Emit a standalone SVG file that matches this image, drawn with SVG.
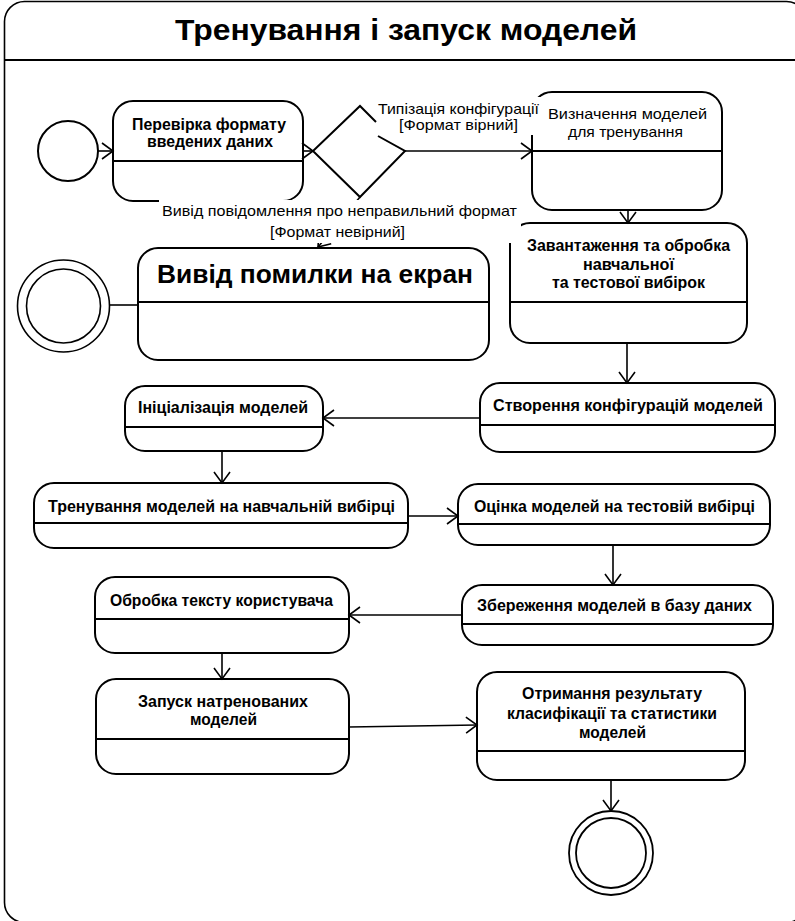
<svg xmlns="http://www.w3.org/2000/svg" width="795" height="921" viewBox="0 0 795 921">
<defs>
<marker id="arr" markerUnits="userSpaceOnUse" markerWidth="30" markerHeight="30" viewBox="-15 -15 30 30" refX="0" refY="0" orient="auto">
<path d="M-11,-8 L0,0 L-11,8" fill="none" stroke="#000" stroke-width="1.6"/>
</marker>
<style>
.node{fill:#fff;stroke:#000;stroke-width:2}
.div{stroke:#000;stroke-width:2}
.t{font-family:"Liberation Sans",Arial,sans-serif;font-size:16px;font-weight:bold;fill:#000;text-anchor:middle}
.r{font-family:"Liberation Sans",Arial,sans-serif;font-size:15px;fill:#000;text-anchor:middle}
.c{fill:none;stroke:#000;stroke-width:1.6}
.ca{fill:none;stroke:#000;stroke-width:1.6;marker-end:url(#arr)}
.lb{fill:#fff;stroke:none}
</style>
</defs>
<rect width="795" height="921" fill="#fff"/>
<g id="frame">
<rect x="4.5" y="1.5" width="802" height="921" rx="20" fill="none" stroke="#000" stroke-width="1.6"/>
<line x1="4.5" y1="60" x2="807" y2="60" stroke="#000" stroke-width="2.2"/>
<text x="406" y="40" font-family="'Liberation Sans',Arial,sans-serif" font-size="30" font-weight="bold" text-anchor="middle" textLength="462" lengthAdjust="spacingAndGlyphs">Тренування і запуск моделей</text>
</g>
<g id="start"><circle cx="68" cy="151" r="30" fill="#fff" stroke="#000" stroke-width="2"/></g>
<g id="check">
<rect class="node" x="113" y="101" width="190" height="100" rx="20"/>
<line class="div" x1="113" y1="161" x2="303" y2="161"/>
<text class="t" x="209" y="130" textLength="154" lengthAdjust="spacingAndGlyphs">Перевірка формату</text>
<text class="t" x="210" y="147" textLength="126" lengthAdjust="spacingAndGlyphs">введених даних</text>
</g>
<g id="decision">
<path d="M376,122 L360,106 L313,151 L360,197 L405,151 L378,136" fill="#fff" stroke="#000" stroke-width="2"/>
</g>
<g id="define">
<rect class="node" x="532" y="92" width="190" height="118" rx="20"/>
<line class="div" x1="532" y1="151" x2="722" y2="151"/>
<text class="r" x="627.5" y="119" textLength="159" lengthAdjust="spacingAndGlyphs">Визначення моделей</text>
<text class="r" x="625.5" y="137" textLength="115" lengthAdjust="spacingAndGlyphs">для тренування</text>
</g>
<g id="error">
<rect class="node" x="138" y="248" width="351" height="112" rx="20"/>
<line class="div" x1="138" y1="302" x2="489" y2="302"/>
<text x="315" y="283" font-family="'Liberation Sans',Arial,sans-serif" font-size="26" font-weight="bold" text-anchor="middle" textLength="316" lengthAdjust="spacingAndGlyphs">Вивід помилки на екран</text>
</g>
<g id="errorEnd">
<circle cx="63.5" cy="306" r="46" fill="#fff" stroke="#000" stroke-width="1.6"/>
<circle cx="63.5" cy="306" r="37" fill="none" stroke="#000" stroke-width="1.6"/>
</g>
<g id="load">
<rect class="node" x="510" y="223" width="237" height="120" rx="20"/>
<line class="div" x1="510" y1="302" x2="747" y2="302"/>
<text class="t" x="628.5" y="251" textLength="203" lengthAdjust="spacingAndGlyphs">Завантаження та обробка</text>
<text class="t" x="628.5" y="270" textLength="91" lengthAdjust="spacingAndGlyphs">навчальної</text>
<text class="t" x="628.5" y="288" textLength="153" lengthAdjust="spacingAndGlyphs">та тестової вибірок</text>
</g>
<g id="config">
<rect class="node" x="480" y="383" width="295" height="69" rx="20"/>
<line class="div" x1="480" y1="425" x2="775" y2="425"/>
<text class="t" x="628" y="411" textLength="270" lengthAdjust="spacingAndGlyphs">Створення конфігурацій моделей</text>
</g>
<g id="init">
<rect class="node" x="125" y="386" width="198" height="65" rx="20"/>
<line class="div" x1="125" y1="427" x2="323" y2="427"/>
<text class="t" x="223" y="413" textLength="170" lengthAdjust="spacingAndGlyphs">Ініціалізація моделей</text>
</g>
<g id="train">
<rect class="node" x="34" y="483" width="374" height="65" rx="20"/>
<line class="div" x1="34" y1="523" x2="408" y2="523"/>
<text class="t" x="221.5" y="512" textLength="347" lengthAdjust="spacingAndGlyphs">Тренування моделей на навчальній вибірці</text>
</g>
<g id="eval">
<rect class="node" x="458" y="484" width="312" height="61" rx="20"/>
<line class="div" x1="458" y1="524" x2="770" y2="524"/>
<text class="t" x="614.5" y="512" textLength="281" lengthAdjust="spacingAndGlyphs">Оцінка моделей на тестовій вибірці</text>
</g>
<g id="save">
<rect class="node" x="462" y="585" width="311" height="60" rx="20"/>
<line class="div" x1="462" y1="624" x2="773" y2="624"/>
<text class="t" x="614.5" y="611" textLength="275" lengthAdjust="spacingAndGlyphs">Збереження моделей в базу даних</text>
</g>
<g id="process">
<rect class="node" x="95" y="577" width="254" height="76" rx="20"/>
<line class="div" x1="95" y1="619" x2="349" y2="619"/>
<text class="t" x="221.5" y="606" textLength="223" lengthAdjust="spacingAndGlyphs">Обробка тексту користувача</text>
</g>
<g id="run">
<rect class="node" x="96" y="679" width="253" height="95" rx="20"/>
<line class="div" x1="96" y1="739" x2="349" y2="739"/>
<text class="t" x="223" y="707" textLength="170" lengthAdjust="spacingAndGlyphs">Запуск натренованих</text>
<text class="t" x="223.5" y="725" textLength="67" lengthAdjust="spacingAndGlyphs">моделей</text>
</g>
<g id="result">
<rect class="node" x="477" y="672" width="268" height="108" rx="20"/>
<line class="div" x1="477" y1="751" x2="745" y2="751"/>
<text class="t" x="612" y="699" textLength="180" lengthAdjust="spacingAndGlyphs">Отримання результату</text>
<text class="t" x="612" y="719" textLength="210" lengthAdjust="spacingAndGlyphs">класифікації та статистики</text>
<text class="t" x="612.5" y="738" textLength="67" lengthAdjust="spacingAndGlyphs">моделей</text>
</g>
<g id="end">
<circle cx="611" cy="853" r="42" fill="#fff" stroke="#000" stroke-width="1.8"/>
<circle cx="611" cy="853" r="35" fill="none" stroke="#000" stroke-width="1.8"/>
</g>
<g id="connectors">
<line class="ca" x1="98" y1="151" x2="113" y2="151"/>
<line class="ca" x1="303" y1="151" x2="313" y2="151"/>
<line class="ca" x1="405" y1="151" x2="532" y2="151"/>
<line class="ca" x1="360" y1="197" x2="318" y2="247"/>
<line class="c" x1="138" y1="305" x2="109" y2="305"/>
<line class="ca" x1="628" y1="210" x2="628" y2="223"/>
<line class="ca" x1="627" y1="343" x2="627" y2="383"/>
<line class="ca" x1="480" y1="418" x2="323" y2="418"/>
<line class="ca" x1="222" y1="451" x2="222" y2="483"/>
<line class="ca" x1="408" y1="516" x2="458" y2="516"/>
<line class="ca" x1="613" y1="545" x2="613" y2="585"/>
<line class="ca" x1="462" y1="615" x2="349" y2="615"/>
<line class="ca" x1="222" y1="653" x2="222" y2="679"/>
<line class="ca" x1="349" y1="727" x2="477" y2="725"/>
<line class="ca" x1="611" y1="780" x2="611" y2="811"/>
</g>
<g id="labels">
<rect class="lb" x="377" y="97" width="164" height="38"/>
<text class="r" x="458.5" y="114" textLength="161" lengthAdjust="spacingAndGlyphs">Типізація конфігурації</text>
<text class="r" x="458.5" y="130" textLength="119" lengthAdjust="spacingAndGlyphs">[Формат вірний]</text>
<rect class="lb" x="159" y="200" width="362" height="43"/>
<text class="r" x="339.5" y="216" textLength="355" lengthAdjust="spacingAndGlyphs">Вивід повідомлення про неправильний формат</text>
<text class="r" x="337.5" y="237" textLength="135" lengthAdjust="spacingAndGlyphs">[Формат невірний]</text>
</g>
</svg>
